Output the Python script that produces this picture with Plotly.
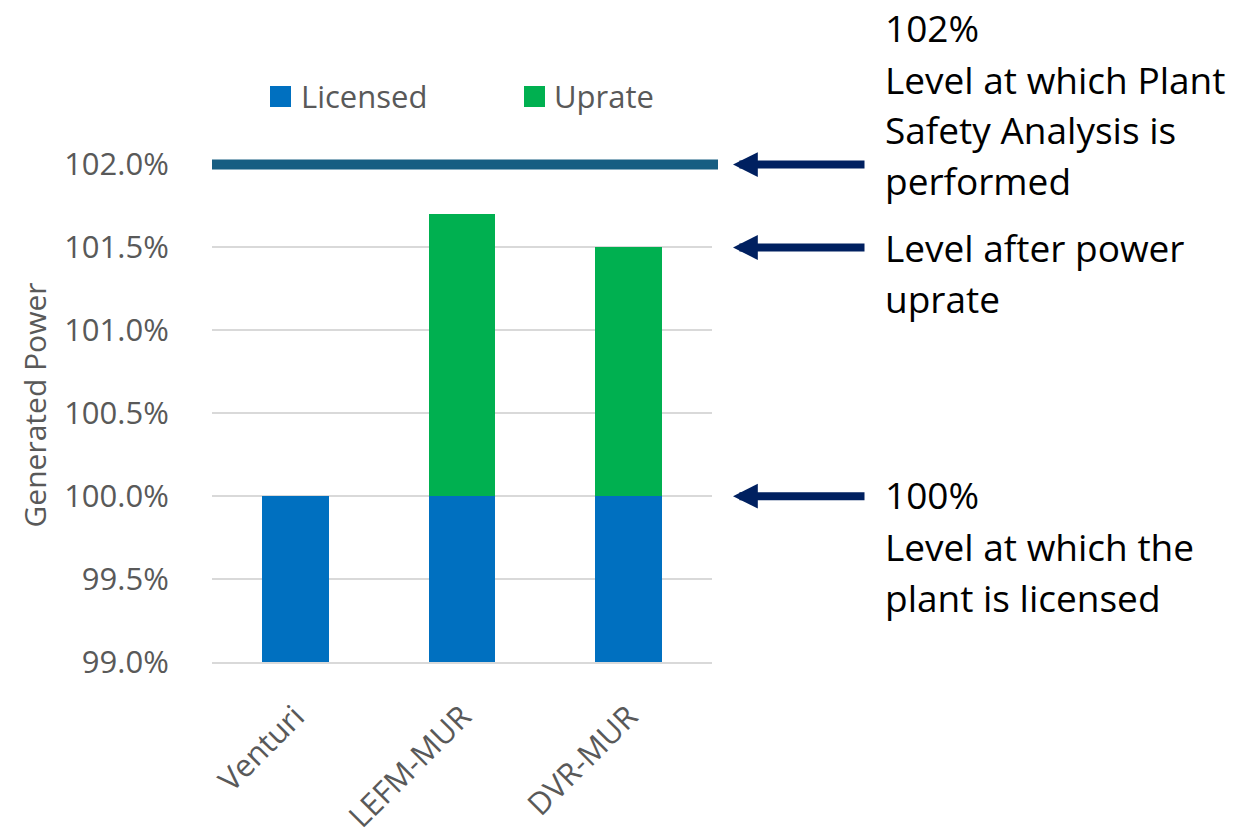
import plotly.graph_objects as go

categories = ["Venturi", "LEFM-MUR", "DVR-MUR"]
licensed = [100.0, 100.0, 100.0]
uprate = [0.0, 1.7, 1.5]
safety_level = 102.0
uprate_level = 101.5
licensed_level = 100.0
tick_vals = [99.0, 99.5, 100.0, 100.5, 101.0, 101.5, 102.0]
tick_text = [f"{v:.1f}%" for v in tick_vals]

FONT = "Open Sans"
GRAY = "#595959"
BLUE = "#0070C0"
GREEN = "#00B050"
LINE = "#175E82"
NAVY = "#002060"

W, H = 1258, 828
L, R, T, B = 212, 546, 148, 166
PW, PH = W - L - R, H - T - B


def px(x):
    return (x - L) / PW


def py(y):
    return (H - B - y) / PH


fig = go.Figure()
fig.add_trace(go.Bar(x=categories, y=licensed, name="Licensed",
                     marker=dict(color=BLUE, line=dict(width=0)), showlegend=False))
fig.add_trace(go.Bar(x=categories, y=uprate, name="Uprate",
                     marker=dict(color=GREEN, line=dict(width=0)), showlegend=False))

fig.update_layout(
    barmode="stack",
    bargap=0.6,
    width=W, height=H,
    margin=dict(l=L, r=R, t=T, b=B, autoexpand=False),
    paper_bgcolor="white",
    plot_bgcolor="white",
    font=dict(family=FONT, color=GRAY, size=30),
    yaxis=dict(
        range=[99, 102.1],
        tickmode="array",
        tickvals=tick_vals,
        ticktext=tick_text,
        showgrid=True, gridcolor="#d9d9d9", gridwidth=1.5,
        zeroline=False, showline=False,
        ticks="outside", ticklen=36, tickcolor="rgba(0,0,0,0)",
        tickfont=dict(size=31, color=GRAY),
        title=dict(text="Generated Power", font=dict(size=30, color=GRAY), standoff=8),
    ),
    xaxis=dict(
        range=[-0.5, 2.5],
        showline=True, linecolor="#d9d9d9", linewidth=2,
        showgrid=False,
        ticks="outside", ticklen=22, tickcolor="rgba(0,0,0,0)",
        tickangle=-45,
        tickfont=dict(size=31, color=GRAY),
    ),
)

# 102% level line
fig.add_shape(type="line", xref="paper", yref="y", x0=0, x1=px(718),
              y0=safety_level, y1=safety_level, line=dict(color=LINE, width=10))

# manual legend
for label, color, x0, tx in [("Licensed", BLUE, 270, 299), ("Uprate", GREEN, 524, 552)]:
    fig.add_shape(type="rect", xref="paper", yref="paper",
                  x0=px(x0), x1=px(x0 + 21), y0=py(107), y1=py(86),
                  fillcolor=color, line=dict(width=0))
    fig.add_annotation(xref="paper", yref="paper", x=px(tx), y=py(96),
                       text=label, showarrow=False, xanchor="left", yanchor="middle",
                       font=dict(size=31, color=GRAY, family=FONT))

# arrows
for lvl in [safety_level, uprate_level, licensed_level]:
    fig.add_annotation(xref="paper", yref="y", x=px(733), y=lvl,
                       ax=133, ay=0, text="", showarrow=True,
                       arrowhead=2, arrowsize=0.62, arrowwidth=8, arrowcolor=NAVY,
                       standoff=0)

# right-side texts
lines = [
    ("102%", 28), ("Level at which Plant", 79), ("Safety Analysis is", 130), ("performed", 180),
    ("Level after power", 247), ("uprate", 298),
    ("100%", 494), ("Level at which the", 546), ("plant is licensed", 597),
]
for txt, ypix in lines:
    fig.add_annotation(xref="paper", yref="paper", x=px(883), y=py(ypix),
                       text=txt, showarrow=False, xanchor="left", yanchor="middle",
                       font=dict(size=37, color="black", family=FONT))

fig.write_html("out.html")
